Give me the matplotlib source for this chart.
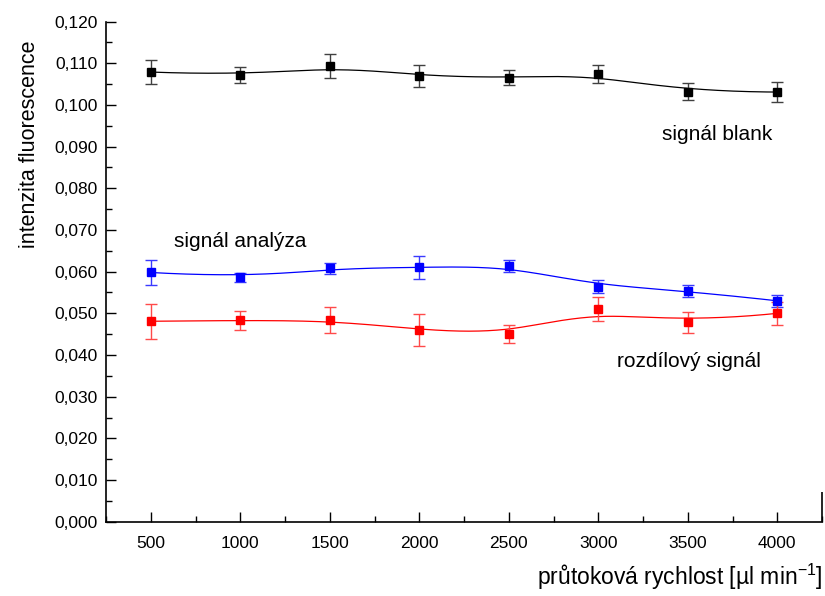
import numpy as np
import matplotlib
matplotlib.use("Agg")
import matplotlib.pyplot as plt
from matplotlib.ticker import MultipleLocator, FuncFormatter

plt.rcParams['font.family'] = ['Liberation Sans', 'DejaVu Sans']

# flow rate [ul/min]
flow = [500, 1000, 1500, 2000, 2500, 3000, 3500, 4000]

blank = [0.1079, 0.1071, 0.1094, 0.1070, 0.1065, 0.1074, 0.1032, 0.1031]
blank_err = [0.0029, 0.0019, 0.0029, 0.0027, 0.0018, 0.0022, 0.0021, 0.0024]

analysis = [0.0598, 0.0586, 0.0608, 0.0610, 0.0614, 0.0564, 0.0554, 0.0530]
analysis_err = [0.0030, 0.0011, 0.0013, 0.0028, 0.0015, 0.0016, 0.0014, 0.0015]

difference = [0.0481, 0.0483, 0.0484, 0.0460, 0.0451, 0.0511, 0.0478, 0.0500]
difference_err = [0.0042, 0.0023, 0.0031, 0.0039, 0.0022, 0.0029, 0.0025, 0.0028]


def bspline(xs, ys, k=3, n=500):
    """Clamped cubic B-spline using the data points as control points."""
    P = np.column_stack([xs, ys]).astype(float)
    m = len(P)
    knots = np.concatenate([np.zeros(k), np.linspace(0, 1, m - k + 1), np.ones(k)])
    out = []
    for t in np.linspace(0, 1, n):
        s = np.searchsorted(knots, t, side='right') - 1
        s = min(max(s, k), m - 1)
        d = [P[j + s - k].copy() for j in range(k + 1)]
        for r in range(1, k + 1):
            for j in range(k, r - 1, -1):
                i = j + s - k
                denom = knots[i + k + 1 - r] - knots[i]
                a = 0.0 if denom == 0 else (t - knots[i]) / denom
                d[j] = (1 - a) * d[j - 1] + a * d[j]
        out.append(d[k])
    out = np.array(out)
    return out[:, 0], out[:, 1]


fig = plt.figure(figsize=(8.25, 5.96), dpi=100)
ax = fig.add_axes([0.1285, 0.1247, 0.868, 0.839])

series = [
    (blank, blank_err, '#000000', '#404040'),
    (analysis, analysis_err, '#0000ff', '#3a3aff'),
    (difference, difference_err, '#ff0000', '#ff4a4a'),
]
for vals, errs, col, ecol in series:
    cx, cy = bspline(flow, vals)
    ax.plot(cx, cy, color=col, lw=0.9, zorder=2)
    ax.errorbar(flow, vals, yerr=errs, fmt='s', color=col, ms=5.5,
                ecolor=ecol, elinewidth=1.0, capsize=4, capthick=1.0, zorder=3)

ax.set_xlim(250, 4250)
ax.set_ylim(0, 0.120)
ax.set_xticks(flow)
ax.xaxis.set_minor_locator(MultipleLocator(250))
ax.yaxis.set_major_locator(MultipleLocator(0.010))
ax.yaxis.set_minor_locator(MultipleLocator(0.005))
ax.yaxis.set_major_formatter(FuncFormatter(lambda v, p: f"{v:.3f}".replace('.', ',')))

for s in ['top', 'right']:
    ax.spines[s].set_visible(False)
for s in ['left', 'bottom']:
    ax.spines[s].set_linewidth(1.2)
# short closing stroke at the right end of the x axis
ax.plot([1, 1], [0, 0.06], transform=ax.transAxes, color='black', lw=1.2,
        clip_on=False, solid_capstyle='butt')

ax.tick_params(which='major', direction='in', length=7, width=1.0, labelsize=12.5)
ax.tick_params(which='minor', direction='in', length=4, width=1.0)
ax.tick_params(axis='x', which='major', pad=10)
ax.tick_params(axis='y', which='major', pad=6)

ax.set_ylabel('intenzita fluorescence', fontsize=15.5)
ax.yaxis.set_label_coords(-0.092, 0.755)
fig.text(0.997, 0.006, 'průtoková rychlost [µl min$^{\\mathregular{-1}}$]',
         fontsize=16.5, ha='right', va='bottom')

ax.text(3664, 0.0930, 'signál blank', fontsize=15, ha='center', va='center')
ax.text(1000, 0.0672, 'signál analýza', fontsize=15, ha='center', va='center')
ax.text(3508, 0.0384, 'rozdílový signál', fontsize=15, ha='center', va='center')

fig.savefig('out.png', dpi=100)
